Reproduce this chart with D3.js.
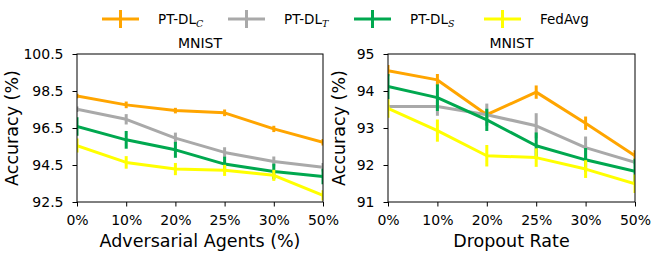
<!DOCTYPE html>
<html><head><meta charset="utf-8">
<script src="https://cdn.jsdelivr.net/npm/d3@7"></script>
<style>body{margin:0;background:#fff}svg{display:block;font-family:"DejaVu Sans",sans-serif}</style>
</head><body><svg id="c" width="665" height="253"></svg>
<script>
const categories = ["0%","10%","20%","25%","30%","50%"];
const seriesNames = ["C","T","S","FedAvg"];
const colors = ["#FFA500","#A9A9A9","#00A84F","#FFFF00"];

// Left: Adversarial Agents
const leftTicks = [92.5,94.5,96.5,98.5,100.5];
const advC = [98.23,97.75,97.44,97.32,96.45,95.73];
const advT = [97.51,96.97,95.95,95.18,94.69,94.38];
const advS = [96.58,95.86,95.32,94.55,94.15,93.88];
const advF = [95.55,94.64,94.28,94.21,93.94,92.86];
const advCe = [0.12,0.18,0.15,0.18,0.17,0.18];
const advTe = [0.15,0.28,0.3,0.28,0.27,0.23];
const advSe = [0.5,0.48,0.43,0.4,0.42,0.42];
const advFe = [0.38,0.34,0.33,0.3,0.3,0.28];

// Right: Dropout Rate
const rightTicks = [91,92,93,94,95];
const dropC = [94.55,94.30,93.36,93.97,93.13,92.25];
const dropT = [93.58,93.58,93.36,93.06,92.47,92.07];
const dropS = [94.12,93.82,93.22,92.52,92.14,91.83];
const dropF = [93.53,92.93,92.25,92.20,91.89,91.49];
const dropCe = [0.15,0.16,0.1,0.18,0.18,0.15];
const dropTe = [0.05,0.25,0.3,0.34,0.3,0.05];
const dropSe = [0.34,0.36,0.3,0.36,0.32,0.34];
const dropFe = [0.25,0.3,0.29,0.25,0.24,0.25];

const svg = d3.select("#c");

function panel(x0, x1, y0, y1, domain, ticks, vals, errs, xlabel, ylabelX) {
  const x = d3.scalePoint().domain(categories).range([x0, x1]);
  const y = d3.scaleLinear().domain(domain).range([y1, y0]);
  const g = svg.append("g");
  const clipId = "clip" + x0;
  svg.append("clipPath").attr("id", clipId).append("rect")
    .attr("x", x0).attr("y", y0).attr("width", x1 - x0).attr("height", y1 - y0);
  const pg = g.append("g").attr("clip-path", `url(#${clipId})`);
  vals.forEach((v, i) => {
    const s = pg.append("g");
    s.append("path").datum(v)
      .attr("d", d3.line().x((d, j) => x(categories[j])).y(d => y(d)))
      .attr("fill", "none").attr("stroke", colors[i]).attr("stroke-width", 3)
      .attr("stroke-linejoin", "round");
    s.selectAll("line").data(v).join("line")
      .attr("x1", (d, j) => x(categories[j])).attr("x2", (d, j) => x(categories[j]))
      .attr("y1", (d, j) => y(d - errs[i][j])).attr("y2", (d, j) => y(d + errs[i][j]))
      .attr("stroke", colors[i]).attr("stroke-width", 3);
  });
  g.append("rect").attr("x", x0).attr("y", y0).attr("width", x1 - x0).attr("height", y1 - y0)
    .attr("fill", "none").attr("stroke", "#000").attr("stroke-width", 1);
  const xa = g.append("g").attr("transform", `translate(0,${y1})`)
    .call(d3.axisBottom(x).tickSize(4.5).tickPadding(8.5));
  const ya = g.append("g").attr("transform", `translate(${x0},0)`)
    .call(d3.axisLeft(y).tickValues(ticks).tickSize(4.5).tickPadding(9).tickFormat(d => String(d)));
  [xa, ya].forEach(a => {
    a.select(".domain").remove();
    a.selectAll("text").attr("font-size", 14).attr("fill", "#000").attr("font-family", "DejaVu Sans");
    a.selectAll("line").attr("stroke", "#000");
  });
  g.append("text").attr("x", (x0 + x1) / 2).attr("y", y0 - 6).attr("text-anchor", "middle")
    .attr("font-size", 14).text("MNIST");
  g.append("text").attr("x", (x0 + x1) / 2).attr("y", 247).attr("text-anchor", "middle")
    .attr("font-size", 17.5).text(xlabel);
  g.append("text").attr("transform", `translate(${ylabelX},${(y0 + y1) / 2}) rotate(-90)`)
    .attr("text-anchor", "middle").attr("font-size", 17.5).text("Accuracy (%)");
}

panel(77, 323, 54, 202, [92.5, 100.5], leftTicks,
  [advC, advT, advS, advF], [advCe, advTe, advSe, advFe], "Adversarial Agents (%)", 18);
panel(388, 635, 54, 202, [91, 95], rightTicks,
  [dropC, dropT, dropS, dropF], [dropCe, dropTe, dropSe, dropFe], "Dropout Rate", 345);

const legX = [102, 228, 354, 484];
const leg = svg.append("g");
seriesNames.forEach((n, i) => {
  const lx = legX[i], ly = 19;
  leg.append("line").attr("x1", lx).attr("x2", lx + 37).attr("y1", ly).attr("y2", ly)
    .attr("stroke", colors[i]).attr("stroke-width", 3);
  leg.append("line").attr("x1", lx + 18.5).attr("x2", lx + 18.5).attr("y1", ly - 9).attr("y2", ly + 9)
    .attr("stroke", colors[i]).attr("stroke-width", 3);
  const t = leg.append("text").attr("x", lx + 56).attr("y", ly + 5).attr("font-size", 13.5);
  if (n === "FedAvg") t.text("FedAvg");
  else {
    t.append("tspan").text("PT-DL");
    t.append("tspan").attr("font-size", 9.5).attr("font-style", "italic")
      .attr("font-family", "DejaVu Serif").attr("dy", 3).text(n);
  }
});
</script></body></html>
